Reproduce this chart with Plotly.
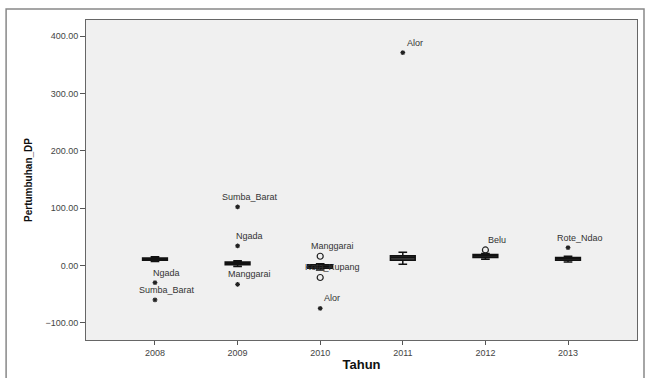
import plotly.graph_objects as go

years = ["2008", "2009", "2010", "2011", "2012", "2013"]
q1 = [9, 1, -5, 9, 14, 9]
median = [11.5, 3.5, -2, 14, 17, 12]
q3 = [13, 6, 1, 17, 19, 14]
lower = [7, -2, -8, 2, 11, 6]
upper = [15, 8, 3, 23, 21, 16]

# outliers: (year index, value, label, kind)
out_year = [0, 0, 1, 1, 1, 2, 2, 2, 3, 4, 5]
out_val = [-30, -60, 102, 34, -33, 16, -21, -75, 371, 27, 31]
out_label = ["Ngada", "Sumba_Barat", "Sumba_Barat", "Ngada", "Manggarai",
             "Manggarai", "Kota_Kupang", "Alor", "Alor", "Belu", "Rote_Ndao"]
out_kind = ["extreme", "extreme", "extreme", "extreme", "extreme",
            "outlier", "outlier", "extreme", "extreme", "outlier", "extreme"]

xs = list(range(len(years)))

fig = go.Figure()
fig.add_trace(go.Box(
    x=xs, q1=q1, median=median, q3=q3, lowerfence=lower, upperfence=upper,
    width=0.3, fillcolor="#444444", line=dict(color="#111111", width=1.5),
    whiskerwidth=0.35, boxpoints=False, showlegend=False, hoverinfo="skip"))

ex_x = [out_year[i] for i in range(len(out_val)) if out_kind[i] == "extreme"]
ex_y = [out_val[i] for i in range(len(out_val)) if out_kind[i] == "extreme"]
ol_x = [out_year[i] for i in range(len(out_val)) if out_kind[i] == "outlier"]
ol_y = [out_val[i] for i in range(len(out_val)) if out_kind[i] == "outlier"]

fig.add_trace(go.Scatter(x=ex_x, y=ex_y, mode="markers",
                         marker=dict(symbol="asterisk-open", size=4, color="#222222",
                                     line=dict(color="#222222", width=1.2)),
                         showlegend=False))
fig.add_trace(go.Scatter(x=ol_x, y=ol_y, mode="markers",
                         marker=dict(symbol="circle-open", size=6, color="#222222",
                                     line=dict(color="#222222", width=1.2)),
                         showlegend=False))

for xi, v, lab in zip(out_year, out_val, out_label):
    fig.add_annotation(x=xi, y=v, text=lab, showarrow=False,
                       xshift=12, yshift=10,
                       font=dict(family="Liberation Sans, Arial", size=9, color="#333333"))

fig.add_shape(type="rect", xref="paper", yref="paper",
              x0=-0.145, y0=-0.2, x1=1.0127, y1=1.034,
              line=dict(color="#888888", width=1.5), layer="below")

fig.update_layout(
    width=645, height=378,
    margin=dict(l=86, r=8, t=20, b=38),
    paper_bgcolor="white", plot_bgcolor="#f0f0f0",
    font=dict(family="Liberation Sans, Arial", color="#333333"),
    xaxis=dict(range=[-0.835, 5.835], tickmode="array", tickvals=xs, ticktext=years,
               ticks="outside", ticklen=4, tickcolor="#555555",
               tickfont=dict(size=9, color="#444444"),
               showgrid=False, zeroline=False, showline=True, linecolor="#666666",
               linewidth=1, mirror=True,
               title=dict(text="<b>Tahun</b>", font=dict(size=13, color="#111111"), standoff=3)),
    yaxis=dict(range=[-130, 428], tickvals=[-100, 0, 100, 200, 300, 400],
               tickformat=".2f", ticks="outside", ticklen=5, tickcolor="#555555",
               tickfont=dict(size=9, color="#444444"),
               showgrid=False, zeroline=False, showline=True, linecolor="#666666",
               linewidth=1, mirror=True,
               title=dict(text="<b>Pertumbuhan_DP</b>", font=dict(size=10, color="#111111"), standoff=10)),
)

fig.write_html("out.html")
